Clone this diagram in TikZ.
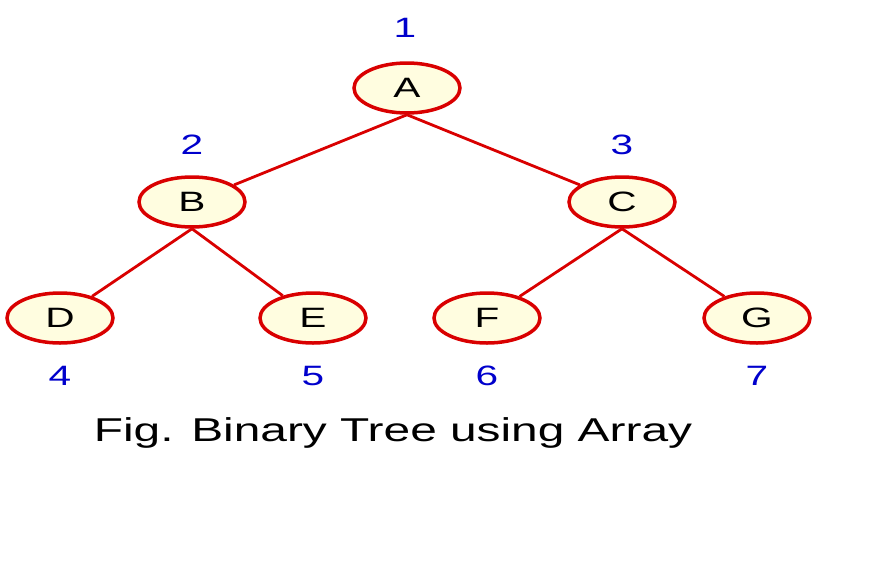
\documentclass[tikz,border=0pt]{standalone}
\usepackage{fontspec}
\setmainfont{Liberation Sans}
\usetikzlibrary{shapes.geometric}
\newcommand{\stretchx}[1]{\scalebox{1.45}[1]{#1}}
\begin{document}
\begin{tikzpicture}[x=1pt,y=-1pt,
  tnode/.style={ellipse,draw=red!85!black,line width=3.5pt,fill=yellow!12,minimum width=106pt,minimum height=50pt,inner sep=0pt,font=\fontsize{28}{28}\selectfont},
  num/.style={text=blue!80!black,font=\fontsize{28}{28}\selectfont},
  edge/.style={draw=red!85!black,line width=2.8pt}]
\useasboundingbox (0,0) rectangle (883,571);
\node[tnode] (A) at (407,88) {\stretchx{A}};
\node[tnode] (B) at (192,202) {\stretchx{B}};
\node[tnode] (C) at (622,202) {\stretchx{C}};
\node[tnode] (D) at (60,318) {\stretchx{D}};
\node[tnode] (E) at (313,318) {\stretchx{E}};
\node[tnode] (F) at (487,318) {\stretchx{F}};
\node[tnode] (G) at (757,318) {\stretchx{G}};
\node[num] (n1) at (405,28) {\stretchx{1}};
\node[num] (n2) at (192,145) {\stretchx{2}};
\node[num] (n3) at (622,145) {\stretchx{3}};
\node[num] (n4) at (60,376) {\stretchx{4}};
\node[num] (n5) at (313,376) {\stretchx{5}};
\node[num] (n6) at (487,376) {\stretchx{6}};
\node[num] (n7) at (757,376) {\stretchx{7}};
\draw[edge] (A.south) -- (B);
\draw[edge] (A.south) -- (C);
\draw[edge] (B.south) -- (D);
\draw[edge] (B.south) -- (E);
\draw[edge] (C.south) -- (F);
\draw[edge] (C.south) -- (G);
\node[font=\fontsize{33}{33}\selectfont] (cap) at (393,433) {\stretchx{Fig. Binary Tree using Array}};
\end{tikzpicture}
\end{document}
